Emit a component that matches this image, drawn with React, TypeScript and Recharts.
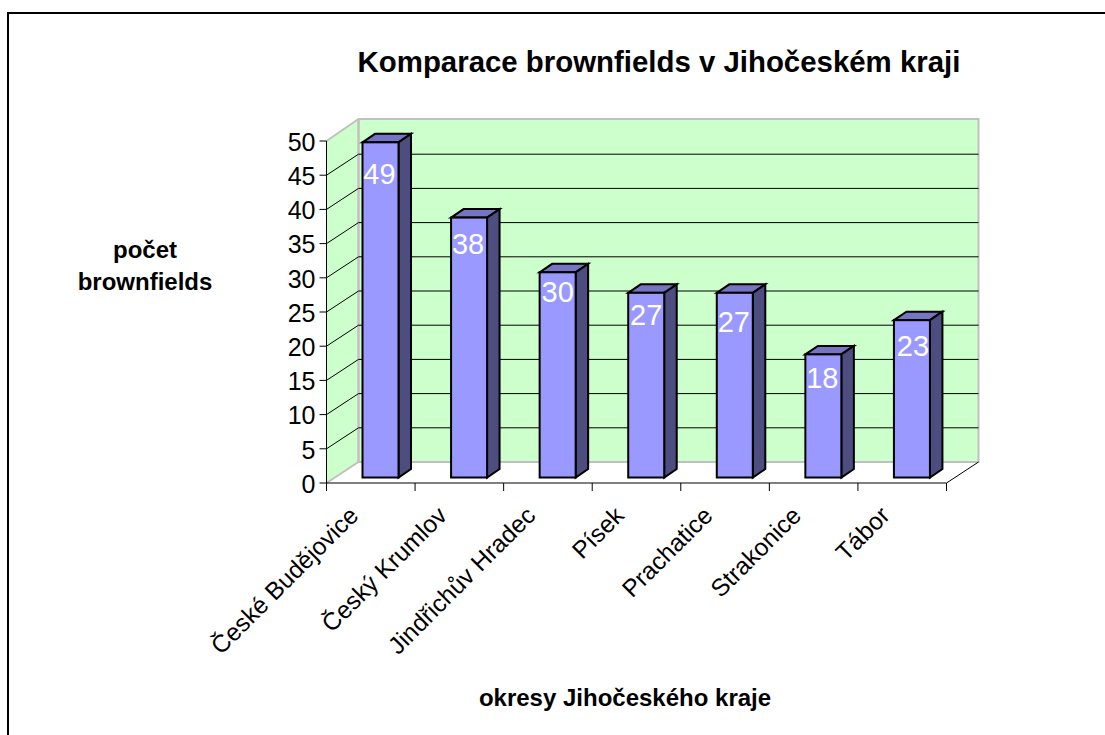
import React from 'react';
import { BarChart, Bar, XAxis, YAxis, CartesianGrid, LabelList } from 'recharts';

const districts = ['České Budějovice', 'Český Krumlov', 'Jindřichův Hradec', 'Písek', 'Prachatice', 'Strakonice', 'Tábor'];
const counts = [49, 38, 30, 27, 27, 18, 23];
const yTicks = [0, 5, 10, 15, 20, 25, 30, 35, 40, 45, 50];
// hand-placed label nudges, the source chart has them slightly irregular
const labelDx = [-1, -1, 0, 0, -1, -1, 1];
const labelDy = [26, 21, 14, 17, 24, 18, 20];

const rows = districts.map((name, i) => ({ name, count: counts[i] }));

const FONT = '"Liberation Sans", Arial, sans-serif';
const LEFT = 326.5;
const RIGHT = 946.5;
const TOP = 141;
const BASE = 483;
const WALL_X = 32;
const WALL_Y = 21;
const BAND = (RIGHT - LEFT) / districts.length;

function Walls() {
  const wx = LEFT + WALL_X;
  const wr = RIGHT + WALL_X;
  const wallTop = TOP - WALL_Y - 1;
  const wallBase = BASE - WALL_Y;
  return (
    <g>
      <polygon points={`${LEFT},${BASE} ${wx},${wallBase} ${wx},${wallTop} ${LEFT},${TOP}`} fill="#CCFFCC" />
      <rect x={wx} y={wallTop} width={RIGHT - LEFT} height={wallBase - wallTop} fill="#CCFFCC" />
      <polyline
        points={`${LEFT},${TOP} ${wx},${wallTop} ${wr},${wallTop} ${wr},${wallBase} ${wx},${wallBase} ${LEFT},${BASE}`}
        fill="none"
        stroke="#C0C0C0"
        strokeWidth={2}
      />
      <line x1={wx} y1={wallTop} x2={wx} y2={wallBase} stroke="#C0C0C0" strokeWidth={2.5} />
      <line x1={RIGHT} y1={BASE} x2={wr} y2={wallBase} stroke="#000" strokeWidth={1} />
    </g>
  );
}

// the walls go in here too, so that they end up under the grid lines
function GridLine(props: any) {
  const { y1, index } = props;
  const edge = y1 <= TOP + 0.5 || y1 >= BASE - 0.5;
  return (
    <g key={index}>
      {index === 0 && <Walls />}
      {!edge && (
        <>
          <line x1={LEFT} y1={y1} x2={LEFT + WALL_X} y2={y1 - WALL_Y} stroke="#000" strokeWidth={1} />
          <line x1={LEFT + WALL_X} y1={y1 - WALL_Y} x2={RIGHT + WALL_X} y2={y1 - WALL_Y} stroke="#000" strokeWidth={1} />
        </>
      )}
    </g>
  );
}

function Box3D(props: any) {
  const { x, y, width, height } = props;
  const dx = 10;
  const dy = -5.5;
  const l = x + dx;
  const r = l + width;
  const t = y + dy;
  const b = y + height + dy;
  const d = 12.5;
  const u = 8.5;
  return (
    <g stroke="#000" strokeWidth={2} strokeLinejoin="miter">
      <polygon points={`${l},${t} ${l + d},${t - u} ${r + d},${t - u} ${r},${t}`} fill="#7575C4" />
      <polygon points={`${r},${t} ${r + d},${t - u} ${r + d},${b - u} ${r},${b}`} fill="#4D4D80" />
      <rect x={l} y={t} width={width} height={b - t} fill="#9999FF" />
    </g>
  );
}

function BarValue(props: any) {
  const { x, y, width, value, index } = props;
  return (
    <text
      x={x + width / 2 + 10 + labelDx[index]}
      y={y + labelDy[index]}
      fill="#fff"
      fontSize={29}
      fontFamily={FONT}
      textAnchor="middle"
      dominantBaseline="central"
    >
      {value}
    </text>
  );
}

function DistrictTick(props: any) {
  const { x, payload, index } = props;
  const last = index === districts.length - 1;
  const left = x - BAND / 2;
  return (
    <g>
      <line x1={left} y1={BASE} x2={left} y2={BASE + 8} stroke="#000" strokeWidth={1} />
      {last && <line x1={left + BAND} y1={BASE} x2={left + BAND} y2={BASE + 8} stroke="#000" strokeWidth={1} />}
      <text
        transform={`translate(${x - 11},${BASE + 34}) rotate(-45)`}
        textAnchor="end"
        fontSize={24.5}
        fontFamily={FONT}
        fill="#000"
      >
        {payload.value}
      </text>
    </g>
  );
}

export default function App() {
  return (
    <div style={{ position: 'absolute', left: 0, top: 0, width: 1105, height: 735, background: '#fff', overflow: 'hidden' }}>
      <div style={{ position: 'absolute', left: 7, top: 12, right: -4, bottom: -4, borderTop: '2px solid #000', borderLeft: '2px solid #000' }} />
      <BarChart
        width={1105}
        height={735}
        data={rows}
        margin={{ top: TOP, right: 1105 - RIGHT, bottom: 0, left: 0 }}
        barSize={36}
        style={{ position: 'absolute', left: 0, top: 0 }}
      >
        <CartesianGrid vertical={false} horizontal={GridLine} />
        <XAxis
          dataKey="name"
          height={252}
          interval={0}
          tickLine={false}
          axisLine={{ stroke: '#000', strokeWidth: 1 }}
          tick={DistrictTick}
        />
        <YAxis
          width={LEFT}
          domain={[0, 50]}
          ticks={yTicks}
          interval={0}
          tickSize={7}
          tickMargin={4}
          axisLine={{ stroke: '#000', strokeWidth: 1 }}
          tickLine={{ stroke: '#000', strokeWidth: 1 }}
          tick={{ fill: '#000', fontSize: 25, fontFamily: FONT, dy: 1 }}
        />
        <Bar dataKey="count" shape={Box3D} isAnimationActive={false}>
          <LabelList dataKey="count" content={BarValue} />
        </Bar>
        <text x={659} y={72} textAnchor="middle" fontSize={29.4} fontWeight="bold" fontFamily={FONT} fill="#000">
          Komparace brownfields v Jihočeském kraji
        </text>
        <text textAnchor="middle" fontSize={24} fontWeight="bold" fontFamily={FONT} fill="#000">
          <tspan x={145} y={258}>počet</tspan>
          <tspan x={145} y={290}>brownfields</tspan>
        </text>
        <text x={625} y={706} textAnchor="middle" fontSize={24} fontWeight="bold" fontFamily={FONT} fill="#000">
          okresy Jihočeského kraje
        </text>
      </BarChart>
    </div>
  );
}
